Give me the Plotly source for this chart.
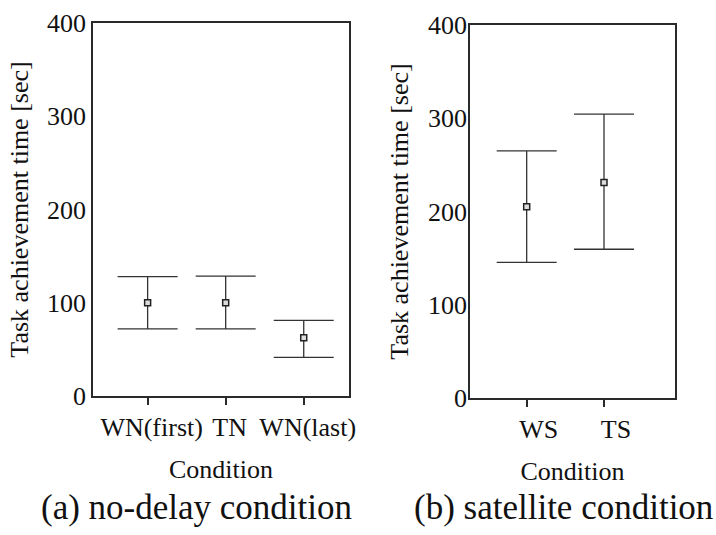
import plotly.graph_objects as go

# ---- data ----
cond_a = ["WN(first)", "TN", "WN(last)"]
mean_a = [100, 100, 62.5]
upper_a = [128, 128.5, 81]
lower_a = [72, 72, 41.5]

cond_b = ["WS", "TS"]
mean_b = [205, 231]
upper_b = [265, 304.5]
lower_b = [145.5, 159.5]

y_ticks = [0, 100, 200, 300, 400]
y_title = "Task achievement time [sec]"
x_title = "Condition"
caption_a = "(a) no-delay condition"
caption_b = "(b) satellite condition"

FONT = "Liberation Serif, Times New Roman, serif"
INK = "#111111"
LINE = "#2a2a2a"

fig = go.Figure()

def add_series(names, means, up, lo, xa, ya):
    xs = list(range(len(names)))
    fig.add_trace(go.Scatter(
        x=xs, y=means, mode="markers", xaxis=xa, yaxis=ya, showlegend=False,
        marker=dict(symbol="square", size=6, color="#dddddd",
                    line=dict(color="#222222", width=1.5)),
        error_y=dict(type="data", symmetric=False,
                     array=[u - m for u, m in zip(up, means)],
                     arrayminus=[m - l for m, l in zip(means, lo)],
                     color="#333333", thickness=1.3, width=30),
    ))

add_series(cond_a, mean_a, upper_a, lower_a, "x", "y")
add_series(cond_b, mean_b, upper_b, lower_b, "x2", "y2")

axis_common = dict(showgrid=False, zeroline=False, showline=True, mirror=True,
                   linecolor=LINE, linewidth=1.8, automargin=False)

xtick_font = dict(family=FONT, size=26, color=INK)
ytick_font = dict(family=FONT, size=26, color=INK)
ytitle_font = dict(family=FONT, size=26, color=INK)
xtitle_font = dict(family=FONT, size=26, color=INK)

fig.update_layout(
    width=716, height=535,
    margin=dict(l=0, r=0, t=0, b=0, autoexpand=False),
    paper_bgcolor="white", plot_bgcolor="white",
    font=dict(family=FONT, color=INK),
    xaxis=dict(domain=[93/716, 349/716], anchor="y", range=[-0.70, 2.58],
               tickmode="array", tickvals=list(range(len(cond_a))), ticktext=cond_a,
               ticks="outside", ticklen=7, tickwidth=1.5, tickcolor=LINE, tickfont=xtick_font,
               ticklabelshift=4,
               title=dict(text=x_title, font=xtitle_font, standoff=19),
               **axis_common),
    yaxis=dict(domain=[1-396/535, 1-23/535], anchor="x", range=[0, 400],
               tickmode="array", tickvals=y_ticks, ticks="", tickfont=ytick_font,
               title=dict(text=y_title, font=ytitle_font, standoff=11),
               **axis_common),
    xaxis2=dict(domain=[470/716, 675/716], anchor="y2", range=[-0.733, 1.918],
                tickmode="array", tickvals=list(range(len(cond_b))), ticktext=cond_b,
                ticks="outside", ticklen=7, tickwidth=1.5, tickcolor=LINE, tickfont=xtick_font,
                ticklabelshift=12,
                title=dict(text=x_title, font=xtitle_font, standoff=19),
                **axis_common),
    yaxis2=dict(domain=[1-398/535, 1-25/535], anchor="x2", range=[0, 400],
                tickmode="array", tickvals=y_ticks, ticks="", tickfont=ytick_font,
                ticklabelstandoff=-4,
                title=dict(text=y_title, font=ytitle_font, standoff=12),
                **axis_common),
    annotations=[
        dict(text=caption_a, x=196/716, y=1-507/535, xref="paper", yref="paper",
             xanchor="center", yanchor="middle", showarrow=False,
             font=dict(family=FONT, size=35, color=INK)),
        dict(text=caption_b, x=563/716, y=1-507/535, xref="paper", yref="paper",
             xanchor="center", yanchor="middle", showarrow=False,
             font=dict(family=FONT, size=35, color=INK)),
    ],
)

fig.write_html("out.html", config={"displayModeBar": False},
               post_script="document.body.style.margin='0';document.body.style.overflow='hidden';")
